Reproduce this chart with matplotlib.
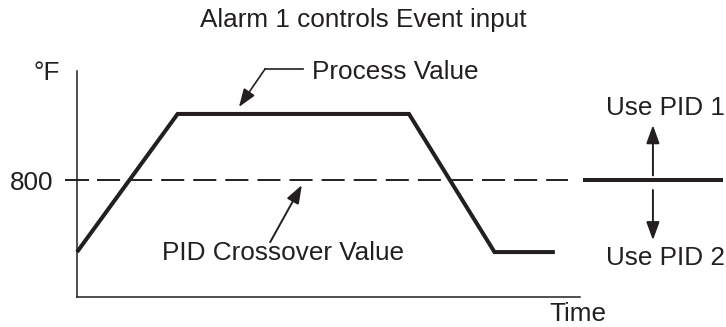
import matplotlib
matplotlib.use("Agg")
import matplotlib.pyplot as plt

plt.rcParams['font.family'] = ['Liberation Sans', 'DejaVu Sans']
plt.rcParams['lines.scale_dashes'] = False

INK = '#231f20'
FS = 18.8

# process value profile (time units, degrees F)
pv_time = [0, 20, 66, 83, 95]
pv_temp = [691, 900, 900, 691, 691]

crossover = 800
t_end = 100
dash_span = [4.0, 97.7]        # dashed crossover line
side_span = [100.6, 128.4]     # solid line at the right side
pid_arrow_t = 114.5
pid_up = [807, 883]
pid_down = [785, 709]

fig = plt.figure(figsize=(7.26, 3.27), dpi=100)
ax = fig.add_axes([77 / 726, 30 / 327, 503 / 726, 226 / 327])
ax.set_xlim(0, t_end)
ax.set_ylim(623, 965)

for s in ['top', 'right']:
    ax.spines[s].set_visible(False)
for s in ['left', 'bottom']:
    ax.spines[s].set_linewidth(1.1)
    ax.spines[s].set_color(INK)

ax.set_xticks([])
ax.set_yticks([crossover])
ax.tick_params(axis='y', direction='inout', length=16.6, width=1.4,
               color=INK, pad=8.6, labelsize=FS, labelcolor=INK)

# crossover line
ax.plot(dash_span, [crossover, crossover], color=INK, lw=1.4,
        dashes=(16.6, 6.5), solid_capstyle='butt', dash_capstyle='butt')
ax.plot(side_span, [crossover, crossover], color=INK, lw=2.9,
        solid_capstyle='butt', clip_on=False)

# process value
ax.plot(pv_time, pv_temp, color=INK, lw=2.9, solid_joinstyle='miter',
        solid_capstyle='butt', clip_on=False)

head = dict(arrowstyle='-|>,head_length=1.1,head_width=0.4', color=INK,
            lw=1.4, shrinkA=0, shrinkB=0, mutation_scale=10)

# Process Value callout
ax.plot([44.9, 37.4], [968.2, 968.2], color=INK, lw=1.2, clip_on=False)
ax.annotate('', xy=(32.2, 910.6), xytext=(37.4, 968.2),
            arrowprops=dict(head, lw=1.2), annotation_clip=False)
ax.text(46.7, 953, 'Process Value', fontsize=FS, color=INK,
        ha='left', va='baseline')

# crossover callout
ax.annotate('', xy=(44.7, 792.4), xytext=(38.4, 706),
            arrowprops=head, annotation_clip=False)
ax.text(16.9, 678.8, 'PID Crossover Value', fontsize=FS, color=INK,
        ha='left', va='baseline')

# PID selection arrows
ax.annotate('', xy=(pid_arrow_t, pid_up[1]), xytext=(pid_arrow_t, pid_up[0]),
            arrowprops=head, annotation_clip=False)
ax.annotate('', xy=(pid_arrow_t, pid_down[1]), xytext=(pid_arrow_t, pid_down[0]),
            arrowprops=head, annotation_clip=False)
ax.text(116.9, 898.5, 'Use PID 1', fontsize=FS, color=INK,
        ha='center', va='baseline', clip_on=False)
ax.text(116.9, 671, 'Use PID 2', fontsize=FS, color=INK,
        ha='center', va='baseline', clip_on=False)

ax.text(-3.4, 951.5, '°F', fontsize=FS, color=INK, ha='right', va='baseline')
ax.text(94.0, 586, 'Time', fontsize=FS, color=INK, ha='left', va='baseline')

fig.text(0.5, 1 - 27 / 327, 'Alarm 1 controls Event input', fontsize=FS,
         color=INK, ha='center', va='baseline')

fig.savefig('out.png', dpi=100)
